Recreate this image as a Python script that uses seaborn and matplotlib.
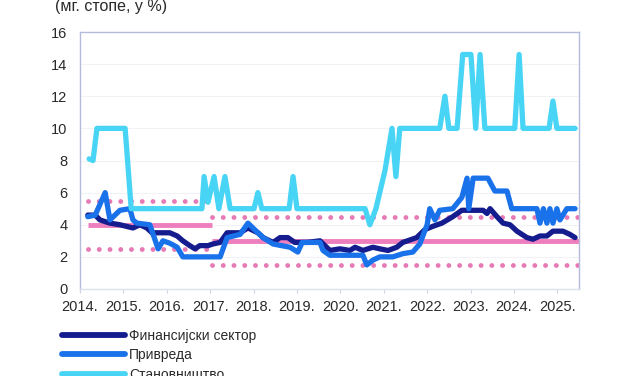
import pandas as pd
import seaborn as sns
import matplotlib.pyplot as plt

# Каматне стопе (мг. стопе, у %)
fin_years = [2014.18, 2014.35, 2014.46, 2014.69, 2014.92, 2015.22, 2015.38, 2015.54, 2015.66, 2016.07,
             2016.24, 2016.37, 2016.53, 2016.65, 2016.76, 2016.95, 2017.06, 2017.23, 2017.39, 2017.69,
             2017.87, 2018.10, 2018.22, 2018.45, 2018.61, 2018.79, 2018.95, 2019.23, 2019.53, 2019.76,
             2019.99, 2020.22, 2020.34, 2020.52, 2020.75, 2020.91, 2021.10, 2021.30, 2021.44, 2021.76,
             2021.95, 2022.13, 2022.34, 2022.59, 2022.80, 2023.29, 2023.38, 2023.45, 2023.61, 2023.75,
             2023.91, 2024.07, 2024.30, 2024.44, 2024.60, 2024.76, 2024.90, 2025.13, 2025.29, 2025.41]
fin_values = [4.6, 4.6, 4.3, 4.1, 4.0, 3.8, 4.0, 3.8, 3.5, 3.5,
              3.3, 3.0, 2.7, 2.5, 2.7, 2.7, 2.8, 2.9, 3.5, 3.5,
              3.8, 3.5, 3.2, 2.9, 3.2, 3.2, 2.9, 2.9, 3.0, 2.4,
              2.5, 2.4, 2.6, 2.4, 2.6, 2.5, 2.4, 2.6, 2.9, 3.2,
              3.7, 3.9, 4.1, 4.5, 4.9, 4.9, 4.7, 5.0, 4.5, 4.1,
              4.0, 3.6, 3.2, 3.1, 3.3, 3.3, 3.6, 3.6, 3.4, 3.2]

corp_years = [2014.18, 2014.35, 2014.58, 2014.69, 2014.92, 2015.15, 2015.22, 2015.31, 2015.61, 2015.80,
              2015.91, 2016.07, 2016.24, 2016.37, 2017.23, 2017.39, 2017.69, 2017.87, 2018.10, 2018.22,
              2018.45, 2018.84, 2019.02, 2019.12, 2019.53, 2019.60, 2019.76, 2020.52, 2020.61, 2020.75,
              2020.91, 2021.21, 2021.44, 2021.67, 2021.83, 2022.00, 2022.06, 2022.18, 2022.29, 2022.59,
              2022.80, 2022.92, 2022.96, 2023.06, 2023.40, 2023.56, 2023.84, 2023.95, 2024.53, 2024.60,
              2024.68, 2024.76, 2024.83, 2024.90, 2024.99, 2025.06, 2025.22, 2025.41]
corp_values = [4.5, 4.6, 6.0, 4.3, 4.9, 5.0, 4.3, 4.1, 4.0, 2.5,
               3.0, 2.85, 2.6, 2.0, 2.0, 3.2, 3.4, 4.1, 3.5, 3.2,
               2.8, 2.6, 2.3, 2.9, 2.9, 2.4, 2.1, 2.1, 1.5, 1.8,
               2.0, 2.0, 2.2, 2.3, 2.8, 4.0, 5.0, 4.3, 4.9, 5.0,
               5.7, 6.9, 5.0, 6.9, 6.9, 6.1, 6.1, 5.0, 5.0, 4.1,
               5.0, 4.1, 5.0, 4.1, 5.0, 4.3, 5.0, 5.0]

hh_years = [2014.21, 2014.30, 2014.39, 2015.04, 2015.18, 2016.81, 2016.86, 2016.95, 2017.09, 2017.20,
            2017.34, 2017.46, 2018.01, 2018.10, 2018.19, 2018.82, 2018.91, 2019.00, 2020.57, 2020.68,
            2020.82, 2021.03, 2021.19, 2021.28, 2021.37, 2022.29, 2022.41, 2022.50, 2022.69, 2022.82,
            2023.01, 2023.12, 2023.22, 2023.33, 2024.02, 2024.12, 2024.21, 2024.81, 2024.90, 2024.99,
            2025.41]
hh_values = [8.1, 8.0, 10.0, 10.0, 5.0, 5.0, 7.0, 5.4, 7.0, 5.0,
             7.0, 5.0, 5.0, 6.0, 5.0, 5.0, 7.0, 5.0, 5.0, 4.0,
             5.0, 7.4, 10.0, 7.0, 10.0, 10.0, 12.0, 10.0, 10.0, 14.6,
             14.6, 10.0, 14.6, 10.0, 10.0, 14.6, 10.0, 10.0, 11.7, 10.0,
             10.0]

series_names = ["Финансијски сектор", "Привреда", "Становништво"]
series_colors = ["#141c8e", "#1a72ea", "#48d4f4"]

# target band: centre, upper and lower limit, before and after 2017
band_start = [2014.18, 2017.05]
band_end = [2017.05, 2025.5]
band_mid = [4.0, 3.0]
band_up = [5.5, 4.5]
band_low = [2.5, 1.5]

year_ticks = list(range(2014, 2026))
y_ticks = list(range(0, 17, 2))

frames = []
for name, xs, ys in zip(series_names, [fin_years, corp_years, hh_years],
                        [fin_values, corp_values, hh_values]):
    frames.append(pd.DataFrame({"year": xs, "value": ys, "series": name}))
df = pd.concat(frames, ignore_index=True)

sns.set_style("white")
plt.rcParams["font.family"] = ["Liberation Sans", "DejaVu Sans"]

fig = plt.figure(figsize=(6.27, 3.76), dpi=100)
ax = fig.add_axes([80 / 627, 1 - 289 / 376, 499 / 627, 257 / 376])

pink = "#ee7fbf"
dot_pink = "#e67ab6"
for x0, x1, u, lo in zip(band_start, band_end, band_up, band_low):
    for lvl in (u, lo):
        ax.plot([x0, x1], [lvl, lvl], color=dot_pink, lw=3.5, ls=(0, (0.01, 2.2)),
                dash_capstyle="round", zorder=1)

sns.lineplot(data=df, x="year", y="value", hue="series", hue_order=series_names,
             palette=series_colors, estimator=None, sort=False, lw=3.8, ax=ax, zorder=3)

for x0, x1, m in zip(band_start, band_end, band_mid):
    ax.plot([x0, x1], [m, m], color=pink, lw=3.5, zorder=2, solid_capstyle="butt")

ax.set_xlim(2014.0, 2025.5)
ax.set_ylim(0, 16)
ax.set_xticks(year_ticks)
ax.set_xticklabels([f"{y}." for y in year_ticks])
ax.set_yticks(y_ticks)
ax.set_xlabel("")
ax.set_ylabel("")
ax.tick_params(axis="y", length=0, pad=9, labelsize=10.5, labelcolor="#2a2a2a")
ax.tick_params(axis="x", length=3, width=0.8, color="#d0d4e4", pad=5,
               labelsize=10.5, labelcolor="#2a2a2a", bottom=True)
ax.grid(axis="y", color="#f1f2f6", lw=0.8)
for side in ax.spines.values():
    side.set_color("#b4bcdc")
    side.set_linewidth(1.0)
ax.spines["bottom"].set_color("#dde1ee")

handles, labels = ax.get_legend_handles_labels()
ax.get_legend().remove()
leg = fig.legend(handles, labels, loc="upper left", bbox_to_anchor=(62 / 627, 1 - 329 / 376),
                 frameon=False, fontsize=10, handlelength=4.5, handletextpad=0.35,
                 labelspacing=0.38, borderpad=0, borderaxespad=0)
for line in leg.get_lines():
    line.set_linewidth(4.2)
for txt in leg.get_texts():
    txt.set_color("#2a2a2a")

fig.text(55 / 627, 1 - 6 / 376, "(мг. стопе, у %)", fontsize=11.5, color="#2a2a2a",
         ha="left", va="center")

plt.savefig("out.png", dpi=100)
